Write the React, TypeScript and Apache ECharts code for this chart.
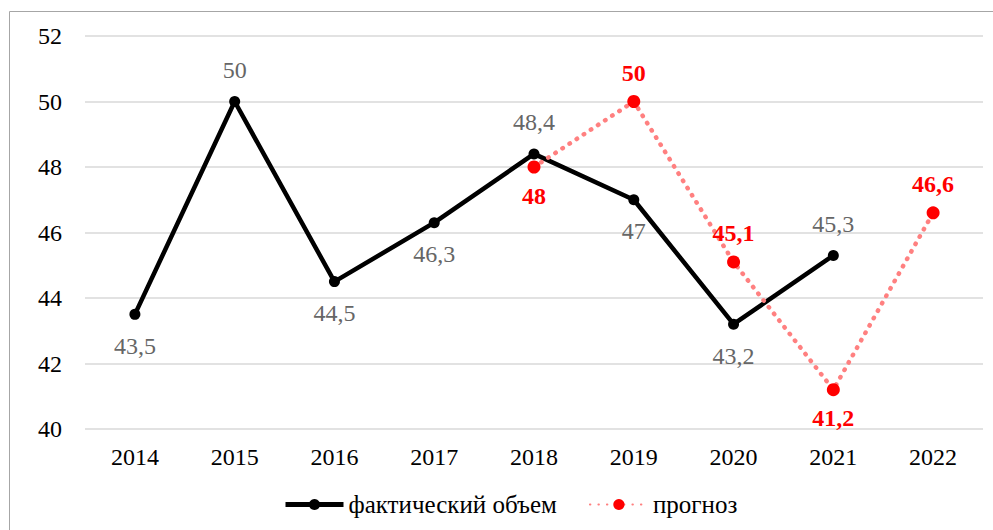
import React, { useEffect, useRef } from "react";
import * as echarts from "echarts";

const years = ["2014", "2015", "2016", "2017", "2018", "2019", "2020", "2021", "2022"];
const actual = [43.5, 50, 44.5, 46.3, 48.4, 47, 43.2, 45.3, null];
const actualLabelPos = ["bottom", "top", "bottom", "bottom", "top", "bottom", "bottom", "top", "top"];
const forecast = [null, null, null, null, 48, 50, 45.1, 41.2, 46.6];
const forecastLabelPos = ["top", "top", "top", "top", "bottom", "top", "top", "bottom", "top"];
const yTicks = { min: 40, max: 52, interval: 2 };

const FONT = "Liberation Serif";
const fmt = (v: number) => String(v).replace(".", ",");

export default function App() {
  const ref = useRef<HTMLDivElement>(null);
  useEffect(() => {
    const chart = echarts.init(ref.current!, null, { renderer: "svg" });
    chart.setOption({
      animation: false,
      textStyle: { fontFamily: FONT },
      graphic: [
        {
          type: "rect",
          shape: { x: 9.5, y: 11.5, width: 1100, height: 700 },
          style: { fill: "none", stroke: "#a6a6a6", lineWidth: 1 },
          silent: true,
        },
      ],
      grid: { left: 85, right: 10, top: 36, bottom: 101 },
      legend: {
        bottom: 8,
        left: 278,
        itemWidth: 58,
        itemHeight: 14,
        itemGap: 32,
        textStyle: { fontFamily: FONT, fontSize: 25, color: "#000" },
        data: [
          { name: "фактический объем", itemStyle: { color: "#000" }, lineStyle: { width: 5 } },
          { name: "прогноз" },
        ],
      },
      xAxis: {
        type: "category",
        data: years,
        boundaryGap: true,
        axisLine: { show: false },
        axisTick: { show: false },
        axisLabel: { fontFamily: FONT, fontSize: 24, color: "#000", margin: 16 },
      },
      yAxis: {
        type: "value",
        min: yTicks.min,
        max: yTicks.max,
        interval: yTicks.interval,
        axisLine: { show: false },
        axisTick: { show: false },
        axisLabel: { fontFamily: FONT, fontSize: 24, color: "#000", margin: 23 },
        splitLine: { lineStyle: { color: "#d9d9d9", width: 1.5 } },
      },
      series: [
        {
          name: "фактический объем",
          type: "line",
          data: actual.map((v, i) => ({
            value: v,
            label: { position: actualLabelPos[i] },
          })),
          symbol: "circle",
          symbolSize: 11,
          itemStyle: { color: "#000" },
          lineStyle: { color: "#000", width: 4.5 },
          label: {
            show: true,
            distance: 14,
            fontFamily: FONT,
            fontSize: 24,
            color: "#666",
            formatter: (p: any) => fmt(p.value),
          },
          z: 3,
        },
        {
          name: "прогноз",
          type: "line",
          data: forecast.map((v, i) => ({
            value: v,
            label: { position: forecastLabelPos[i] },
          })),
          symbol: "circle",
          symbolSize: 13,
          itemStyle: { color: "#ff0000" },
          lineStyle: { color: "#ff8080", width: 4.5, type: [0.5, 8], cap: "round" },
          label: {
            show: true,
            distance: 10,
            fontFamily: FONT,
            fontSize: 24,
            fontWeight: "bold",
            color: "#ff0000",
            formatter: (p: any) => fmt(p.value),
          },
          z: 4,
        },
      ],
    });
    return () => chart.dispose();
  }, []);
  return (
    <div
      ref={ref}
      style={{ position: "absolute", left: 0, top: 0, width: 993, height: 530 }}
    />
  );
}
